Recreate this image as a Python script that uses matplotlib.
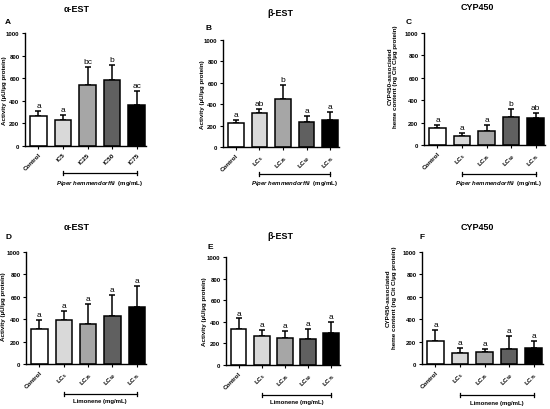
import numpy as np
import matplotlib
matplotlib.use('Agg')
import matplotlib.pyplot as plt
from matplotlib import transforms

plt.rcParams['font.family'] = ['Liberation Sans', 'DejaVu Sans']
plt.rcParams['mathtext.fontset'] = 'custom'
plt.rcParams['mathtext.rm'] = 'Liberation Sans:bold'
plt.rcParams['mathtext.it'] = 'Liberation Sans:italic:bold'
plt.rcParams['mathtext.bf'] = 'Liberation Sans:bold'

# categories
ic_labels = ['Control', 'IC5', 'IC25', 'IC50', 'IC75']
lc_labels = ['Control', 'LC$_{5}$', 'LC$_{25}$', 'LC$_{50}$', 'LC$_{75}$']

# Piper hemmendorffii
a_mean = [265, 228, 543, 588, 362]
a_err = [47, 48, 157, 127, 125]
a_sig = ['a', 'a', 'bc', 'b', 'ac']
b_mean = [222, 319, 453, 238, 256]
b_err = [31, 37, 125, 56, 75]
b_sig = ['a', 'ab', 'b', 'a', 'a']
c_mean = [148, 83, 128, 252, 240]
c_err = [30, 27, 47, 71, 48]
c_sig = ['a', 'a', 'a', 'b', 'ab']

# Limonene
d_mean = [315, 395, 354, 426, 506]
d_err = [80, 77, 180, 190, 187]
d_sig = ['a', 'a', 'a', 'a', 'a']
e_mean = [332, 266, 248, 241, 300]
e_err = [99, 59, 71, 90, 96]
e_sig = ['a', 'a', 'a', 'a', 'a']
f_mean = [206, 96, 110, 137, 140]
f_err = [98, 50, 27, 117, 69]
f_sig = ['a', 'a', 'a', 'a', 'a']

bar_colors = ['white', '#d9d9d9', '#a6a6a6', '#606060', 'black']
yticks = [0, 200, 400, 600, 800, 1000]

W, H = 550, 410
fig = plt.figure(figsize=(W / 100, H / 100), dpi=100)


def px_axes(left, top, bottom, right):
    # pixel box -> figure fraction
    return fig.add_axes([left / W, 1 - bottom / H, (right - left) / W, (bottom - top) / H])


act_label = 'Activity (\u00b5U/\u00b5g protein)'
cyp_label = 'CYP450-associated\nheme content (ng Cit C/\u00b5g protein)'
ph_text = r'$\mathit{Piper\ hemmendorffii}$  (mg/mL)'
lim_text = 'Limonene (mg/mL)'

panels = [
    # box, mean, err, sig, xlabels, title, letter, ylabel, ylab pos, bracket y, bracket text, title px, letter px
    ((25, 34, 147, 146), a_mean, a_err, a_sig, ic_labels, '\u03b1-EST', 'A', act_label, (-0.15, 0.5),
     -0.24, ph_text, (77, 9), (5, 23)),
    ((223, 41, 148, 339), b_mean, b_err, b_sig, lc_labels, '\u03b2-EST', 'B', act_label, (-0.155, 0.5),
     -0.252, ph_text, (280, 14), (205, 28)),
    ((424, 34, 146, 545), c_mean, c_err, c_sig, lc_labels, 'CYP450', 'C', cyp_label, (-0.215, 0.62),
     -0.258, ph_text, (477, 8), (406, 22)),
    ((26, 253, 365, 146), d_mean, d_err, d_sig, lc_labels, '\u03b1-EST', 'D', act_label, (-0.165, 0.52),
     -0.268, lim_text, (77, 228), (5, 238)),
    ((226, 258, 366, 340), e_mean, e_err, e_sig, lc_labels, '\u03b2-EST', 'E', act_label, (-0.165, 0.5),
     -0.278, lim_text, (280, 237), (207, 248)),
    ((422, 253, 365, 543), f_mean, f_err, f_sig, lc_labels, 'CYP450', 'F', cyp_label, (-0.21, 0.6),
     -0.277, lim_text, (477, 227), (419, 238)),
]

for (box, mean, err, sig, xlabels, title, letter, ylabel, ylab_pos,
     brk_y, brk_text, title_px, letter_px) in panels:
    ax = px_axes(*box)
    x = np.arange(len(mean))
    # error bars (upper only), drawn under the bars
    ax.errorbar(x, mean, yerr=[np.zeros(len(err)), err], fmt='none', ecolor='black',
                elinewidth=1.1, capsize=2.3, capthick=1.1, zorder=1)
    ax.bar(x, mean, width=0.67, color=bar_colors, edgecolor='black', linewidth=1.1, zorder=2)
    for xi, m, e, s in zip(x, mean, err, sig):
        ax.text(xi, m + e + 18, s, ha='center', va='bottom', fontsize=6)

    ax.set_xlim(-0.55, 4.38)
    ax.set_ylim(0, 1000)
    ax.spines['top'].set_visible(False)
    ax.spines['right'].set_visible(False)
    ax.spines['left'].set_linewidth(1)
    ax.spines['bottom'].set_linewidth(1)
    ax.set_yticks(yticks)
    ax.set_yticklabels([str(t) for t in yticks], fontsize=4.3, fontweight='bold')
    ax.set_xticks(x)
    ax.set_xticklabels(xlabels, rotation=45, ha='right', rotation_mode='anchor',
                       fontsize=4.5, fontweight='bold')
    ax.tick_params(axis='both', length=2.5, width=0.8, pad=1.5)
    ax.set_ylabel(ylabel, fontsize=4.5, fontweight='bold', linespacing=1.1)
    ax.yaxis.set_label_coords(*ylab_pos)

    # bracket under the treated groups
    trans = transforms.blended_transform_factory(ax.transData, ax.transAxes)
    tick_h = 2.2 / ax.bbox.height
    ax.plot([1, 4], [brk_y, brk_y], color='black', lw=0.9, transform=trans, clip_on=False)
    for bx in [1, 4]:
        ax.plot([bx, bx], [brk_y - tick_h, brk_y + tick_h], color='black', lw=0.9,
                transform=trans, clip_on=False)
    ax.text(2.5, brk_y - 0.04, brk_text, transform=trans, ha='center', va='top',
            fontsize=4.3, fontweight='bold')

    fig.text(title_px[0] / W, 1 - title_px[1] / H, title, ha='center', va='center',
             fontsize=6.5, fontweight='bold')
    fig.text(letter_px[0] / W, 1 - letter_px[1] / H, letter, ha='left', va='center',
             fontsize=6, fontweight='bold')

fig.savefig('out.png', dpi=100)
